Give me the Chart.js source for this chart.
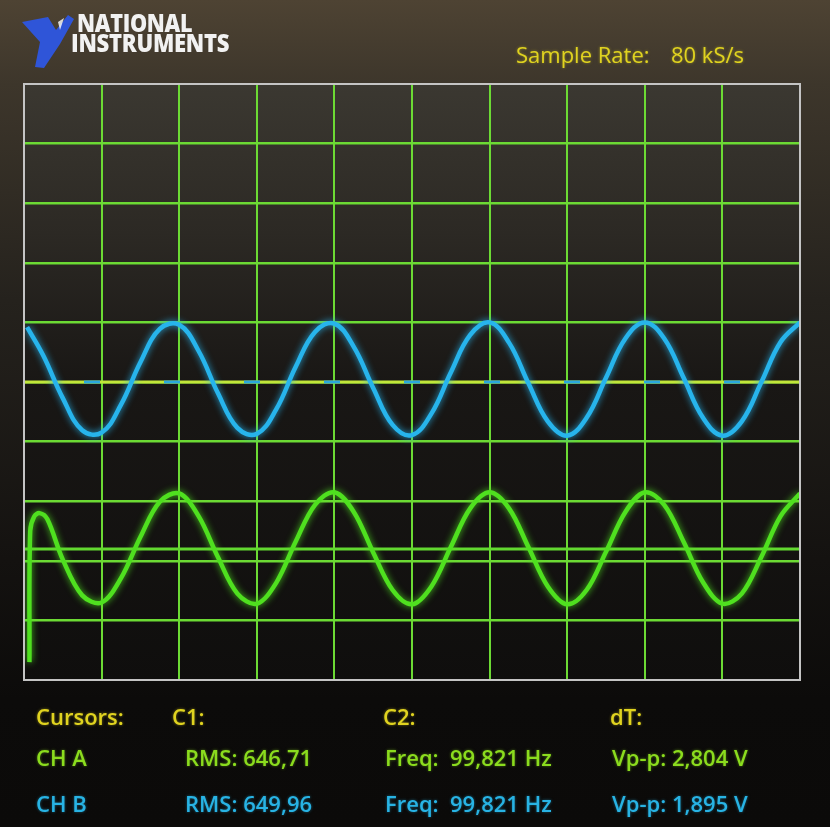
<!DOCTYPE html>
<html>
<head>
<meta charset="utf-8">
<script src="https://cdn.jsdelivr.net/npm/chart.js@4.4.1/dist/chart.umd.min.js"></script>
<style>
  html, body { margin: 0; padding: 0; }
  body {
    width: 830px; height: 827px; overflow: hidden; position: relative;
    background: linear-gradient(to bottom, #4e4333 0px, #3d362b 84px, #25221d 300px, #141210 560px, #0c0b0a 700px, #0b0a09 827px);
    font-family: "Open Sans", "DejaVu Sans", sans-serif;
  }
  #c { position: absolute; left: 0; top: 0; }
  .t { position: absolute; white-space: nowrap; line-height: 22px; font-size: 22px; font-weight: 600; }
  .y { color: #e0d320; text-shadow: 0 0 3px rgba(224,211,32,0.5); }
  .g { color: #8bdc1e; text-shadow: 0 0 3px rgba(139,220,30,0.5); }
  .b { color: #28b3e4; text-shadow: 0 0 3px rgba(40,179,228,0.5); }
  .ni { position: absolute; color: #f2f2f2; font-weight: 800; font-size: 24px; line-height: 24px;
        transform-origin: left top; letter-spacing: -0.3px; white-space: nowrap; }
  #logo { position: absolute; left: 0; top: 0; }
</style>
</head>
<body>
<canvas id="c" width="830" height="827"></canvas>

<svg id="logo" width="90" height="80" viewBox="0 0 90 80">
  <polygon points="22,22 48,17 56,30 68,15 74,19 60,44 44,68 35,67 40,42" fill="#2f55d8"/>
  <polygon points="58,22 64,18 60,30" fill="#ffffff" opacity="0.8"/>
</svg>
<div class="ni" style="left:77px; top:11px; transform:scaleX(0.9);">NATIONAL</div>
<div class="ni" style="left:71px; top:31px; transform:scaleX(0.92);">INSTRUMENTS</div>
<div class="t y" style="left:516px; top:43px; font-weight:400;">Sample Rate:</div>
<div class="t y" style="left:671px; top:43px; font-weight:400;">80 kS/s</div>

<div class="t y" style="left:36px; top:705px;">Cursors:</div>
<div class="t y" style="left:172px; top:705px;">C1:</div>
<div class="t y" style="left:383px; top:705px;">C2:</div>
<div class="t y" style="left:610px; top:705px;">dT:</div>

<div class="t g" style="left:36px; top:746px;">CH A</div>
<div class="t g" style="left:185px; top:746px;">RMS: 646,71</div>
<div class="t g" style="left:385px; top:746px;">Freq:&nbsp; 99,821 Hz</div>
<div class="t g" style="left:612px; top:746px;">Vp-p: 2,804 V</div>

<div class="t b" style="left:36px; top:792px;">CH B</div>
<div class="t b" style="left:185px; top:792px;">RMS: 649,96</div>
<div class="t b" style="left:385px; top:792px;">Freq:&nbsp; 99,821 Hz</div>
<div class="t b" style="left:612px; top:792px;">Vp-p: 1,895 V</div>

<script>
// ---- Data (units: grid divisions) ----
const gridTicks = [0, 1, 2, 3, 4, 5, 6, 7, 8, 9, 10];

// CH B (blue trace) : time position (div) and level (div)
const chBTime = [0.04, 0.25, 0.5, 0.75, 1.0, 1.25, 1.5, 1.75, 2.0, 2.25, 2.5, 2.75, 3.0, 3.25, 3.5, 3.75,
  4.0, 4.25, 4.5, 4.75, 5.0, 5.25, 5.5, 5.75, 6.0, 6.25, 6.5, 6.75, 7.0, 7.25, 7.5, 7.75,
  8.0, 8.25, 8.5, 8.75, 9.0, 9.25, 9.5, 9.75, 10.0];
const chBLevel = [5.92, 5.44, 4.73, 4.19, 4.15, 4.62, 5.33, 5.89, 5.96, 5.52, 4.81, 4.23, 4.13, 4.54, 5.25, 5.84,
  5.98, 5.59, 4.90, 4.28, 4.11, 4.47, 5.16, 5.79, 6.00, 5.66, 4.98, 4.34, 4.10, 4.40, 5.07, 5.73,
  6.00, 5.73, 5.07, 4.40, 4.10, 4.34, 4.99, 5.67, 6.00];

// CH A (green trace)
const chATime = [0.07, 0.08, 0.13, 0.2, 0.3, 0.5, 0.75, 1.0, 1.25, 1.5, 1.75, 2.0, 2.25, 2.5, 2.75, 3.0,
  3.25, 3.5, 3.75, 4.0, 4.25, 4.5, 4.75, 5.0, 5.25, 5.5, 5.75, 6.0, 6.25, 6.5, 6.75, 7.0,
  7.25, 7.5, 7.75, 8.0, 8.25, 8.5, 8.75, 9.0, 9.25, 9.5, 9.75, 10.0];
const chALevel = [0.30, 2.50, 2.74, 2.80, 2.70, 2.02, 1.42, 1.30, 1.71, 2.40, 2.99, 3.13, 2.75, 2.06, 1.45, 1.28,
  1.63, 2.32, 2.94, 3.15, 2.82, 2.14, 1.51, 1.27, 1.57, 2.23, 2.88, 3.15, 2.88, 2.23, 1.57, 1.27,
  1.51, 2.15, 2.82, 3.15, 2.94, 2.32, 1.64, 1.28, 1.45, 2.06, 2.75, 3.13];

// Channel reference (zero) markers
const markerSpan = [0, 10];
const chBZero = [5.0, 5.0];
const chAZero = [2.2, 2.2];

const toPts = (xs, ys) => xs.map((x, i) => ({ x: x, y: ys[i] }));

const glow = {
  id: 'glow',
  beforeDatasetDraw(chart, args) {
    const ds = chart.data.datasets[args.index];
    chart.ctx.save();
    if (ds.glow) { chart.ctx.shadowColor = ds.glow; chart.ctx.shadowBlur = 7; }
  },
  afterDatasetDraw(chart) { chart.ctx.restore(); }
};

const screenBg = {
  id: 'screenBg',
  beforeDraw(chart) {
    const { ctx, chartArea: a } = chart;
    const g = ctx.createLinearGradient(0, a.top, 0, a.bottom);
    g.addColorStop(0, '#3b3831');
    g.addColorStop(0.25, '#2c2924');
    g.addColorStop(0.5, '#191715');
    g.addColorStop(1, '#0f0e0d');
    ctx.save();
    ctx.fillStyle = g;
    ctx.fillRect(a.left, a.top, a.right - a.left, a.bottom - a.top);
    ctx.restore();
  },
  afterDraw(chart) {
    const { ctx, chartArea: a } = chart;
    ctx.save();
    ctx.strokeStyle = '#c4c4c4';
    ctx.lineWidth = 2;
    ctx.strokeRect(a.left, a.top, a.right - a.left, a.bottom - a.top);
    ctx.restore();
  }
};

const gridColor = (ctx) => (ctx.tick && (ctx.tick.value === 0 || ctx.tick.value === 10)) ? 'rgba(0,0,0,0)' : '#6cda34';

new Chart(document.getElementById('c'), {
  type: 'line',
  data: {
    datasets: [
      { data: toPts(chBTime, chBLevel), borderColor: '#27b4ec', glow: 'rgba(39,180,236,0.9)', borderWidth: 4.5, tension: 0.4, pointRadius: 0 },
      { data: toPts(chATime, chALevel), borderColor: '#4fe01f', glow: 'rgba(79,224,31,0.9)', borderWidth: 4.5, tension: 0.35, pointRadius: 0 },
      { data: toPts(markerSpan, chBZero), borderColor: '#2aa8dc', borderWidth: 3, borderDash: [16, 64], borderDashOffset: -140, pointRadius: 0 },
      { data: toPts(markerSpan, chBZero), borderColor: '#c2e63a', borderWidth: 3, pointRadius: 0 },
      { data: toPts(markerSpan, chAZero), borderColor: '#62d830', borderWidth: 3, pointRadius: 0 }
    ]
  },
  options: {
    responsive: false,
    animation: false,
    events: [],
    layout: { padding: { left: 24, top: 84, right: 30, bottom: 147 } },
    plugins: { legend: { display: false }, tooltip: { enabled: false } },
    scales: {
      x: {
        type: 'linear', min: gridTicks[0], max: gridTicks[gridTicks.length - 1],
        afterBuildTicks: (s) => { s.ticks = gridTicks.map(v => ({ value: v })); },
        ticks: { display: false },
        grid: { color: gridColor, lineWidth: 2, drawTicks: false },
        border: { display: false }
      },
      y: {
        type: 'linear', min: gridTicks[0], max: gridTicks[gridTicks.length - 1],
        afterBuildTicks: (s) => { s.ticks = gridTicks.map(v => ({ value: v })); },
        ticks: { display: false },
        grid: { color: gridColor, lineWidth: 2.5, drawTicks: false },
        border: { display: false }
      }
    }
  },
  plugins: [screenBg, glow]
});
</script>
</body>
</html>
